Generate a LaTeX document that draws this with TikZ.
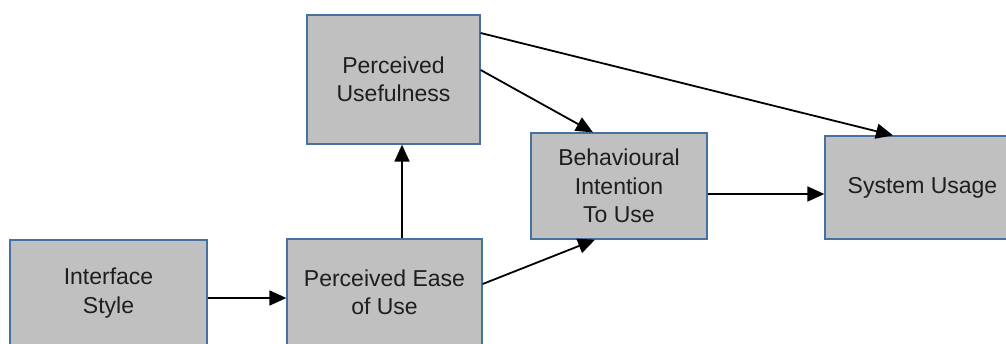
\documentclass[tikz,border=0pt]{standalone}
\usepackage{fontspec}
\setmainfont{Liberation Sans}
\usetikzlibrary{arrows.meta}
\definecolor{boxfill}{RGB}{192,192,192}
\definecolor{boxedge}{RGB}{70,114,160}
\definecolor{txt}{RGB}{30,30,30}
\begin{document}
\begin{tikzpicture}[x=1pt,y=-1pt,
  box/.style={draw=boxedge,line width=1.3pt,fill=boxfill,inner sep=0pt,align=center,
    text=txt,font=\fontsize{23}{28.5}\selectfont},
  conn/.style={draw=black,line width=1.8pt,-{Triangle[length=17pt,width=15pt]}}]
\clip (0,0) rectangle (1006,343);
\node[box,minimum width=197pt,minimum height=106pt] (is) at (108.5,293) {Interface\\Style};
\node[box,minimum width=195pt,minimum height=107pt] (peu) at (384.5,292.5) {Perceived Ease\\of Use};
\node[box,minimum width=173pt,minimum height=129pt] (pu) at (393.5,79.5) {Perceived\\Usefulness};
\node[box,minimum width=176pt,minimum height=106pt] (bi) at (619,186) {Behavioural\\Intention\\To Use};
\node[box,minimum width=195pt,minimum height=103pt] (su) at (922.5,187.5) {System Usage};
\draw[conn] ([yshift=-5pt]is.east) -- ([yshift=-5pt]is.east -| peu.west);
\draw[conn] ([xshift=17.5pt]peu.north) -- ([xshift=17.5pt]peu.north |- pu.south);
\draw[conn] ([yshift=8.5pt]peu.east) -- ([xshift=-24pt]bi.south);
\draw[conn] ([yshift=9.5pt]pu.east) -- ([xshift=-26pt]bi.north);
\draw[conn] ([yshift=46.5pt]pu.east) -- ([xshift=-29.5pt]su.north);
\draw[conn] ([yshift=-8pt]bi.east) -- ([yshift=-8pt]bi.east -| su.west);
\end{tikzpicture}
\end{document}
